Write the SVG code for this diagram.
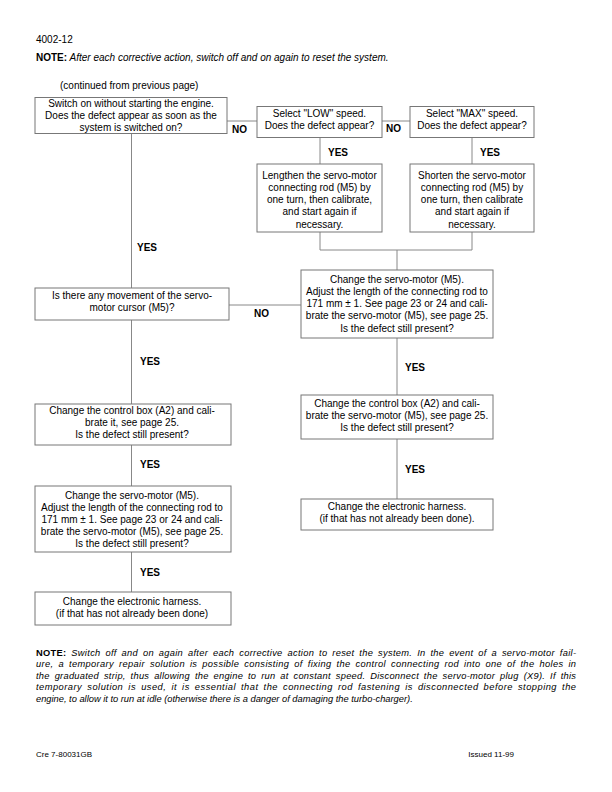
<svg xmlns="http://www.w3.org/2000/svg" width="612" height="792" viewBox="0 0 612 792">
<style>
text{font-family:"Liberation Sans",Arial,sans-serif;fill:#000}
.t{font-size:10px}
.n{font-size:9.3px}
.j{word-spacing:2px}
.c{font-size:10px;text-anchor:middle}
.lb{font-size:10px;font-weight:bold}
.box{fill:#fff;stroke:#777;stroke-width:1}
.ln{fill:none;stroke:#888;stroke-width:1}
.it{font-style:italic}
.b{font-weight:bold;font-style:normal}
.f{font-size:8px}
</style>
<rect width="612" height="792" fill="#fff"/>
<g id="header">
<text class="t" x="36" y="43">4002-12</text>
<text class="t" x="36" y="61"><tspan class="b">NOTE:</tspan><tspan class="it"> After each corrective action, switch off and on again to reset the system.</tspan></text>
<text class="t" x="60" y="88.5">(continued from previous page)</text>
</g>
<g id="connectors">
<path class="ln" d="M131.5 133V288M131.5 320V404M131.5 445V486M131.5 552V592"/>
<path class="ln" d="M227 121H257M382 121H410"/>
<path class="ln" d="M320 137V164M472 137V164M320 232V250H472V232M397 250V270"/>
<path class="ln" d="M229 305H301"/>
<path class="ln" d="M397 338V395M397 439V499"/>
<text class="lb" x="232" y="133">NO</text>
<text class="lb" x="386" y="132">NO</text>
<text class="lb" x="328" y="156">YES</text>
<text class="lb" x="480" y="156">YES</text>
<text class="lb" x="137" y="251">YES</text>
<text class="lb" x="254" y="317">NO</text>
<text class="lb" x="140" y="365">YES</text>
<text class="lb" x="140" y="468">YES</text>
<text class="lb" x="140" y="576">YES</text>
<text class="lb" x="405" y="371">YES</text>
<text class="lb" x="405" y="473">YES</text>
</g>
<g id="n1">
<rect class="box" x="35" y="97.5" width="192" height="36"/>
<text class="c" x="131" y="106.5">Switch on without starting the engine.</text>
<text class="c" x="131" y="118.5">Does the defect appear as soon as the</text>
<text class="c" x="131" y="130.5">system is switched on?</text>
</g>
<g id="n2">
<rect class="box" x="257" y="106.5" width="125" height="31"/>
<text class="c" x="319.5" y="116.5">Select "LOW" speed.</text>
<text class="c" x="319.5" y="128.5">Does the defect appear?</text>
</g>
<g id="n3">
<rect class="box" x="410" y="106.5" width="124" height="31"/>
<text class="c" x="472" y="116.5">Select "MAX" speed.</text>
<text class="c" x="472" y="128.5">Does the defect appear?</text>
</g>
<g id="n4">
<rect class="box" x="257" y="164" width="125" height="68"/>
<text class="c" x="319.5" y="178.5">Lengthen the servo-motor</text>
<text class="c" x="319.5" y="190.75">connecting rod (M5) by</text>
<text class="c" x="319.5" y="203">one turn, then calibrate,</text>
<text class="c" x="319.5" y="215.25">and start again if</text>
<text class="c" x="319.5" y="227.5">necessary.</text>
</g>
<g id="n5">
<rect class="box" x="410" y="164" width="124" height="68"/>
<text class="c" x="472" y="178.5">Shorten the servo-motor</text>
<text class="c" x="472" y="190.75">connecting rod (M5) by</text>
<text class="c" x="472" y="203">one turn, then calibrate</text>
<text class="c" x="472" y="215.25">and start again if</text>
<text class="c" x="472" y="227.5">necessary.</text>
</g>
<g id="n6">
<rect class="box" x="301" y="270" width="192" height="68"/>
<text class="c" x="397" y="282.5">Change the servo-motor (M5).</text>
<text class="c" x="397" y="294.75">Adjust the length of the connecting rod to</text>
<text class="c" x="397" y="307">171 mm ± 1. See page 23 or 24 and cali-</text>
<text class="c" x="397" y="319.25">brate the servo-motor (M5), see page 25.</text>
<text class="c" x="397" y="331.5">Is the defect still present?</text>
</g>
<g id="n7">
<rect class="box" x="35" y="288" width="194" height="32"/>
<text class="c" x="132" y="298.5">Is there any movement of the servo-</text>
<text class="c" x="132" y="310.5">motor cursor (M5)?</text>
</g>
<g id="n8">
<rect class="box" x="35" y="404" width="196" height="41"/>
<text class="c" x="132" y="413.5">Change the control box (A2) and cali-</text>
<text class="c" x="132" y="425.5">brate it, see page 25.</text>
<text class="c" x="132" y="437.5">Is the defect still present?</text>
</g>
<g id="n9">
<rect class="box" x="35" y="486" width="196" height="66"/>
<text class="c" x="132" y="498.5">Change the servo-motor (M5).</text>
<text class="c" x="132" y="510.5">Adjust the length of the connecting rod to</text>
<text class="c" x="132" y="522.5">171 mm ± 1. See page 23 or 24 and cali-</text>
<text class="c" x="132" y="534.5">brate the servo-motor (M5), see page 25.</text>
<text class="c" x="132" y="546.5">Is the defect still present?</text>
</g>
<g id="n10">
<rect class="box" x="35" y="592" width="196" height="33"/>
<text class="c" x="132" y="604.5">Change the electronic harness.</text>
<text class="c" x="132" y="616.5">(if that has not already been done)</text>
</g>
<g id="n11">
<rect class="box" x="301" y="395" width="192" height="44"/>
<text class="c" x="397" y="406.5">Change the control box (A2) and cali-</text>
<text class="c" x="397" y="418.5">brate the servo-motor (M5), see page 25.</text>
<text class="c" x="397" y="430.5">Is the defect still present?</text>
</g>
<g id="n12">
<rect class="box" x="301" y="499" width="192" height="31"/>
<text class="c" x="397" y="509.5">Change the electronic harness.</text>
<text class="c" x="397" y="522">(if that has not already been done).</text>
</g>
<g id="note">
<text class="n j" x="36" y="655.5" textLength="540" lengthAdjust="spacing"><tspan class="b">NOTE:</tspan><tspan class="it"> Switch off and on again after each corrective action to reset the system. In the event of a servo-motor fail-</tspan></text>
<text class="n j it" x="36" y="667" textLength="540" lengthAdjust="spacing">ure, a temporary repair solution is possible consisting of fixing the control connecting rod into one of the holes in</text>
<text class="n j it" x="36" y="678.5" textLength="540" lengthAdjust="spacing">the graduated strip, thus allowing the engine to run at constant speed. Disconnect the servo-motor plug (X9). If this</text>
<text class="n j it" x="36" y="690" textLength="540" lengthAdjust="spacing">temporary solution is used, it is essential that the connecting rod fastening is disconnected before stopping the</text>
<text class="n it" x="36" y="701.5">engine, to allow it to run at idle (otherwise there is a danger of damaging the turbo-charger).</text>
</g>
<g id="footer">
<text class="f" x="36" y="757">Cre  7-80031GB</text>
<text class="f" x="514" y="757" text-anchor="end">Issued 11-99</text>
</g>
</svg>
